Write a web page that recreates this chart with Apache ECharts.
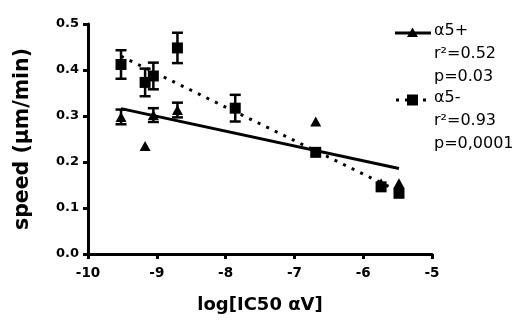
<!DOCTYPE html>
<html><head><meta charset="utf-8">
<script src="https://cdn.jsdelivr.net/npm/echarts@6/dist/echarts.min.js"></script>
<style>html,body{margin:0;padding:0;background:#fff}#c{width:525px;height:327px}</style>
</head><body><div id="c"></div>
<script>
// alpha5- (squares)
const sqX = [-9.52, -9.17, -9.05, -8.70, -7.86, -6.69, -5.74, -5.48];
const sqY = [0.412, 0.373, 0.387, 0.448, 0.317, 0.221, 0.146, 0.132];
const sqErr = [0.031, 0.030, 0.029, 0.033, 0.029, 0, 0, 0];
// alpha5+ (triangles)
const trX = [-9.52, -9.17, -9.05, -8.70, -6.69, -5.74, -5.48];
const trY = [0.298, 0.235, 0.302, 0.313, 0.288, 0.154, 0.154];
const trErr = [0.016, 0, 0.015, 0.016, 0, 0, 0];
// regression lines (endpoints)
const fitPlusX = [-9.52, -5.48];
const fitPlusY = [0.316, 0.186];
const fitMinusX = [-9.52, -5.48];
const fitMinusY = [0.430, 0.136];
// axis ticks
const xTicks = [-10, -9, -8, -7, -6, -5];
const yTicks = [0.0, 0.1, 0.2, 0.3, 0.4, 0.5];
// legend text
const legendPlus = ['α5+', 'r²=0.52', 'p=0.03'];
const legendMinus = ['α5-', 'r²=0.93', 'p=0,0001'];

const zip = (a, b, c) => a.map((v, i) => c ? [v, b[i], c[i]] : [v, b[i]]);
const FONT = '"DejaVu Sans", sans-serif';

function errRender(params, api) {
  const x = api.value(0), y = api.value(1), e = api.value(2);
  if (!e) return null;
  const t = api.coord([x, y + e]), b = api.coord([x, y - e]);
  const w = 5.5;
  const st = {stroke: '#000', lineWidth: 2.5};
  return {type: 'group', children: [
    {type: 'line', shape: {x1: t[0], y1: t[1], x2: b[0], y2: b[1]}, style: st},
    {type: 'line', shape: {x1: t[0] - w, y1: t[1], x2: t[0] + w, y2: t[1]}, style: st},
    {type: 'line', shape: {x1: b[0] - w, y1: b[1], x2: b[0] + w, y2: b[1]}, style: st}
  ]};
}

const chart = echarts.init(document.getElementById('c'), null, {renderer: 'canvas'});
const legendGraphics = [];
const lx = 434, lh = 23;
legendPlus.forEach((t, i) => legendGraphics.push({type: 'text', left: lx, top: 23 + i * lh,
  style: {text: t, font: '16px ' + FONT, fill: '#000'}}));
legendMinus.forEach((t, i) => legendGraphics.push({type: 'text', left: lx, top: 90 + i * lh,
  style: {text: t, font: '16px ' + FONT, fill: '#000'}}));
legendGraphics.push({type: 'line', shape: {x1: 395, y1: 33, x2: 431, y2: 33}, style: {stroke: '#000', lineWidth: 3}});
legendGraphics.push({type: 'polygon', shape: {points: [[412.5, 27.5], [407, 37], [418, 37]]}, style: {fill: '#000'}});
legendGraphics.push({type: 'line', shape: {x1: 396, y1: 100, x2: 432, y2: 100}, style: {stroke: '#000', lineWidth: 3, lineDash: [3, 6]}});
legendGraphics.push({type: 'rect', shape: {x: 407, y: 94.5, width: 11, height: 11}, style: {fill: '#000'}});

chart.setOption({
  animation: false,
  grid: {left: 88, right: 93, top: 24, bottom: 73},
  xAxis: {
    type: 'value', min: -10, max: -5, interval: 1,
    name: 'log[IC50 αV]', nameLocation: 'middle', nameGap: 42,
    nameTextStyle: {fontFamily: FONT, fontWeight: 'bold', fontSize: 18, color: '#000'},
    axisLine: {lineStyle: {color: '#000', width: 3}},
    axisTick: {length: 5, lineStyle: {color: '#000', width: 3}},
    axisLabel: {fontFamily: FONT, fontWeight: 'bold', fontSize: 13.5, color: '#000', margin: 12,
      formatter: v => xTicks.includes(v) ? String(v) : ''},
    splitLine: {show: false}
  },
  yAxis: {
    type: 'value', min: 0, max: 0.5, interval: 0.1,
    name: 'speed (µm/min)', nameLocation: 'middle', nameGap: 55,
    nameTextStyle: {fontFamily: FONT, fontWeight: 'bold', fontSize: 20.5, color: '#000'},
    axisLine: {show: true, lineStyle: {color: '#000', width: 3}},
    axisTick: {show: true, length: 5, lineStyle: {color: '#000', width: 3}},
    axisLabel: {fontFamily: FONT, fontWeight: 'bold', fontSize: 13, color: '#000', margin: 9,
      formatter: v => { const t = yTicks.find(k => Math.abs(k - v) < 1e-9); return t === undefined ? '' : t.toFixed(1); }},
    splitLine: {show: false}
  },
  series: [
    {type: 'line', data: zip(fitPlusX, fitPlusY), symbol: 'none', lineStyle: {color: '#000', width: 3}, z: 2},
    {type: 'line', data: zip(fitMinusX, fitMinusY), symbol: 'none', lineStyle: {color: '#000', width: 3, type: [3, 6.5]}, z: 2},
    {type: 'custom', renderItem: errRender, data: zip(sqX, sqY, sqErr), z: 3},
    {type: 'custom', renderItem: errRender, data: zip(trX, trY, trErr), z: 3},
    {type: 'scatter', data: zip(sqX, sqY), symbol: 'rect', symbolSize: 11, itemStyle: {color: '#000', opacity: 1}, z: 4},
    {type: 'scatter', data: zip(trX, trY), symbol: 'triangle', symbolSize: [11, 10], itemStyle: {color: '#000', opacity: 1}, z: 4}
  ],
  graphic: legendGraphics
});
</script></body></html>
